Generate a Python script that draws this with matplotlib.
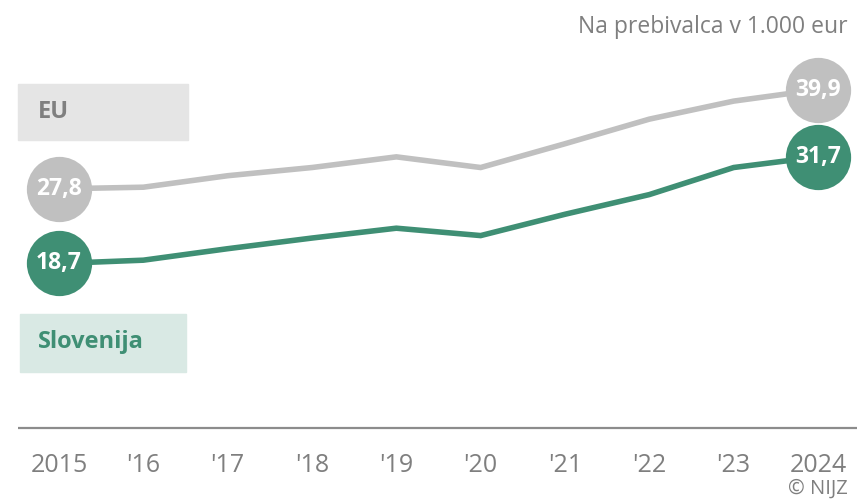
import matplotlib
matplotlib.use("Agg")
import matplotlib.pyplot as plt
from matplotlib import font_manager as fm
from matplotlib.patches import Rectangle

years = [2015, 2016, 2017, 2018, 2019, 2020, 2021, 2022, 2023, 2024]
tick_labels = ["2015", "'16", "'17", "'18", "'19", "'20", "'21", "'22", "'23", "2024"]
eu_values = [27.8, 28.0, 29.4, 30.4, 31.7, 30.4, 33.3, 36.3, 38.5, 39.9]
si_values = [18.7, 19.1, 20.5, 21.8, 23.0, 22.1, 24.7, 27.1, 30.4, 31.7]
eu_label = "EU"
si_label = "Slovenija"
unit_label = "Na prebivalca v 1.000 eur"
credit = "© NIJZ"

names = {f.name for f in fm.fontManager.ttflist}
main_font = "Open Sans" if "Open Sans" in names else "DejaVu Sans"
narrow_font = "Liberation Sans Narrow" if "Liberation Sans Narrow" in names else main_font
plt.rcParams['font.family'] = [main_font, 'DejaVu Sans']

EU_COL = "#c0c0c0"
SI_COL = "#3f8f74"
GREY_TXT = "#7f7f7f"

W, H = 857, 499
fig = plt.figure(figsize=(W / 100, H / 100), dpi=100)
ax = fig.add_axes([0, 0, 1, 1])
ax.set_axis_off()

pxx = 84.33
ax.set_xlim(2015 - 59 / pxx, 2024 + (W - 818) / pxx)
pxy = 8.2
y0px = 416.8
ax.set_ylim((y0px - H) / pxy, y0px / pxy)

def px_to_data(x, y):
    x0, x1 = ax.get_xlim()
    ya, yb = ax.get_ylim()
    return x0 + x / W * (x1 - x0), yb - y / H * (yb - ya)

# baseline
bx0, by = px_to_data(18, 428)
bx1, _ = px_to_data(857, 428)
ax.plot([bx0, bx1], [by, by], color="#8c8c8c", lw=1.6, solid_capstyle="butt")

ax.plot(years, eu_values, color=EU_COL, lw=4, solid_joinstyle="miter", zorder=2)
ax.plot(years, si_values, color=SI_COL, lw=4, solid_joinstyle="miter", zorder=2)

for vals, col in ((eu_values, EU_COL), (si_values, SI_COL)):
    for i in (0, len(years) - 1):
        ax.plot(years[i], vals[i], "o", ms=47, color=col, mec="none", zorder=3)
        ax.text(years[i], vals[i], f"{vals[i]:.1f}".replace(".", ","), ha="center",
                va="center", color="white", fontsize=16.5, fontweight="bold", zorder=4)

# legend boxes
fig.patches.append(Rectangle((18 / W, 1 - 140 / H), 170 / W, 56 / H,
                             transform=fig.transFigure, color="#e5e5e5", zorder=0))
fig.text(38 / W, 1 - 112 / H, eu_label, ha="left", va="center", color=GREY_TXT,
         fontsize=17, fontweight="bold")
fig.patches.append(Rectangle((20 / W, 1 - 372 / H), 166 / W, 58 / H,
                             transform=fig.transFigure, color="#d9e9e4", zorder=0))
fig.text(38 / W, 1 - 342 / H, si_label, ha="left", va="center", color=SI_COL,
         fontsize=17, fontweight="bold")

fig.text(848 / W, 1 - 27 / H, unit_label, ha="right", va="center", color=GREY_TXT,
         fontsize=16.5)

# tick labels
_, ty = px_to_data(0, 465)
for yr, lab in zip(years, tick_labels):
    ax.text(yr, ty, lab, ha="center", va="center", color=GREY_TXT, fontsize=18,
            family=[narrow_font, 'DejaVu Sans'])

fig.text(848 / W, 1 - 489 / H, credit, ha="right", va="center", color=GREY_TXT,
         fontsize=14.5, family=[narrow_font, 'DejaVu Sans'])

fig.savefig("out.png", dpi=100)
